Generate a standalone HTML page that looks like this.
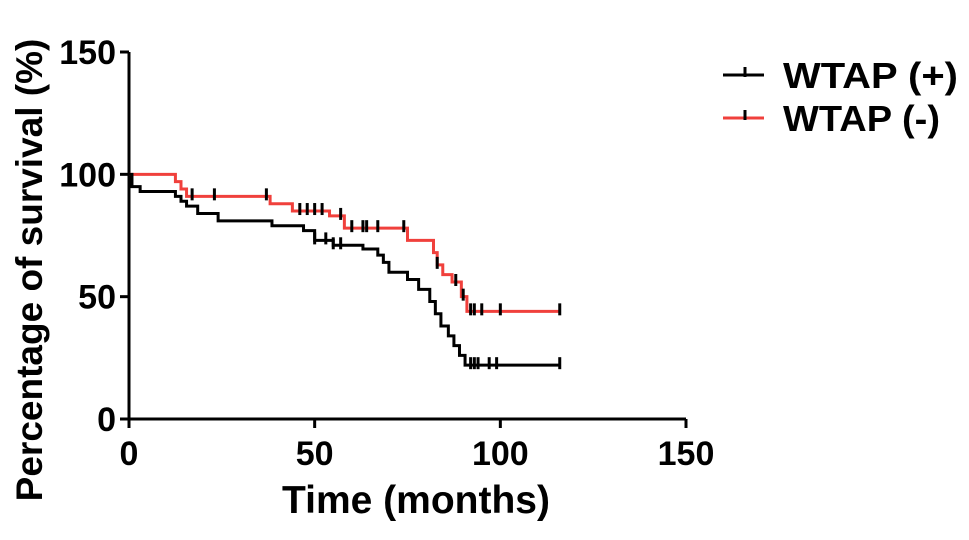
<!DOCTYPE html>
<html><head><meta charset="utf-8"><style>
body{margin:0;background:#fff;}
svg text{font-family:"Liberation Sans",Arial,sans-serif;font-weight:bold;fill:#000;}
</style></head><body>
<svg id="chart" width="969" height="535" xmlns="http://www.w3.org/2000/svg"></svg>
<script>
const xTicks=[0,50,100,150];
const yTicks=[0,50,100,150];
const posTimes=[0,0.8,3,12.5,14,15.5,18.5,24,38.5,47,50,55,63,67,68.5,70,75,78,81,82.5,84,86,87.5,89,90.5,116];
const posSurv=[100,95,93,91,89,87,84,81,79,77,73,71,69.5,67,64,60,57,53,48,43,38,34,30,26,22,22];
const negTimes=[0,12.5,14,15.5,38,44,54,58,75,82,83,84.5,87,89.5,91,116];
const negSurv=[100,97,94,91,88,85,83,78,73,68,63,59,56,50,44,44];
const posCensor=[50,53,55,57,92,93,94,97,99,116];
const negCensor=[17,23,37,46,48,50,52,57,60,63,64,67,74,83,88,90,92,93,95,100,116];
const NS="http://www.w3.org/2000/svg";
const svg=document.getElementById('chart');
const X0=129,X1=686,Y0=419,Y1=52;
function sx(t){return X0+(t/150)*(X1-X0);}
function sy(v){return Y0-(v/150)*(Y0-Y1);}
function mk(tag,attrs,parent){const e=document.createElementNS(NS,tag);for(const k in attrs)e.setAttribute(k,attrs[k]);(parent||svg).appendChild(e);return e;}
let ax=mk('line',{x1:X0,y1:Y1,x2:X0,y2:Y0,stroke:'#000','stroke-width':3});


let bx=mk('line',{x1:X0-1.5,y1:Y0,x2:X1,y2:Y0,stroke:'#000','stroke-width':3});


yTicks.forEach(v=>{
  const y=sy(v);
  let tk=mk('line',{x1:X0-9,y1:y,x2:X0,y2:y,stroke:'#000','stroke-width':3});
  
  
  let tx=mk('text',{x:X0-13,y:y+12,'text-anchor':'end','font-size':34});
  tx.textContent=v;
  
  
});
xTicks.forEach(v=>{
  const x=sx(v);
  let tk=mk('line',{x1:x,y1:Y0,x2:x,y2:Y0+9,stroke:'#000','stroke-width':3});
  
  
  let tx=mk('text',{x:x,y:Y0+46,'text-anchor':'middle','font-size':34});
  tx.textContent=v;
  
  
});
let xt=mk('text',{x:416,y:513,'text-anchor':'middle','font-size':39});
xt.textContent='Time (months)';


let yt=mk('text',{x:0,y:0,'text-anchor':'middle','font-size':37,transform:'translate(42,270) rotate(-90)'});
yt.textContent='Percentage of survival (%)';


function stepPath(ts,ss){let d='M'+sx(ts[0])+','+sy(ss[0]);for(let i=1;i<ts.length;i++){d+=' H'+sx(ts[i])+' V'+sy(ss[i]);}return d;}
function survAt(ts,ss,t){let v=ss[0];for(let i=0;i<ts.length;i++){if(ts[i]<=t)v=ss[i];}return v;}
function series(ts,ss,cens,color,name){
  let p=mk('path',{d:stepPath(ts,ss),fill:'none',stroke:color,'stroke-width':3});
  
  
  cens.forEach(t=>{
    const y=sy(survAt(ts,ss,t));
    let c=mk('line',{x1:sx(t),y1:y-8,x2:sx(t),y2:y+4,stroke:'#000','stroke-width':3});
    
    
  });
}
series(negTimes,negSurv,negCensor,'#f0403c','wtap-neg');
series(posTimes,posSurv,posCensor,'#000','wtap-pos');
[['WTAP (+)','#000',75,'legend-entry-wtap-pos',175],['WTAP (-)','#f0403c',118,'legend-entry-wtap-neg',157]].forEach(([lab,col,y,nm,len])=>{
  let g=mk('g',{});
  
  
  mk('line',{x1:723,y1:y,x2:764,y2:y,stroke:col,'stroke-width':3},g);
  mk('line',{x1:745,y1:y-8,x2:745,y2:y+2,stroke:'#000','stroke-width':3},g);
  let t=mk('text',{x:783,y:y+13,'font-size':36,textLength:len,lengthAdjust:'spacingAndGlyphs'},g);
  t.textContent=lab;
});
</script>
</body></html>
